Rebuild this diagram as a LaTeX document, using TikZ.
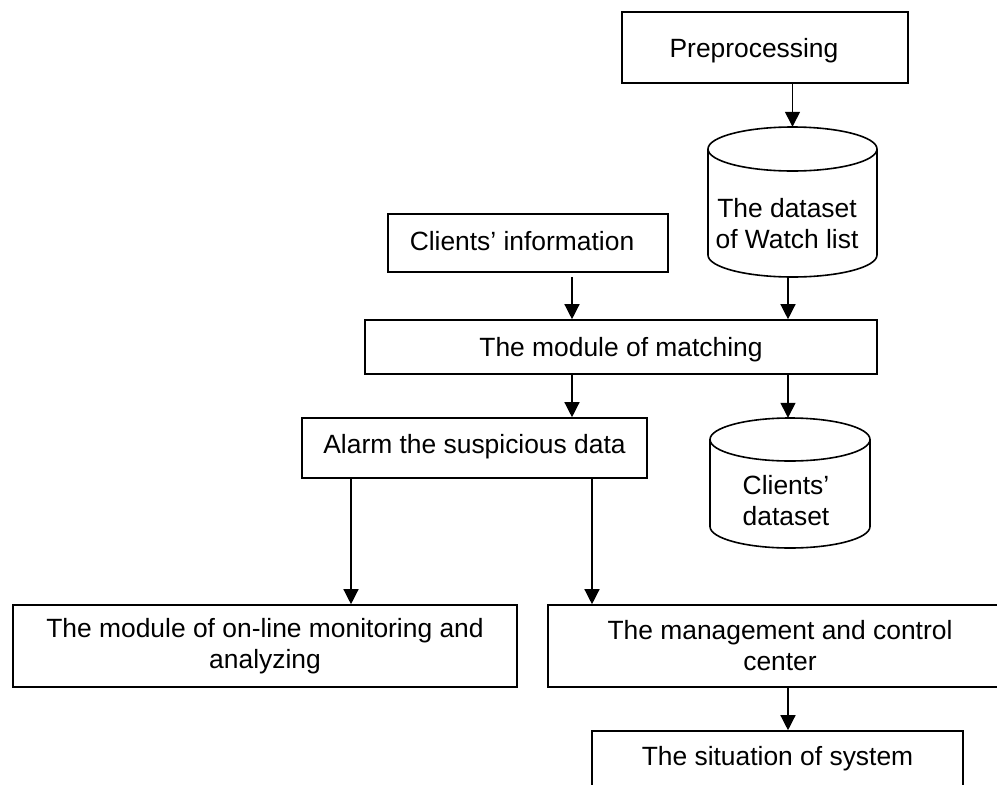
\documentclass[tikz,border=0pt]{standalone}
\usepackage{fontspec}
\setmainfont{Liberation Sans}
\usetikzlibrary{arrows.meta}
\begin{document}
\begin{tikzpicture}[x=1pt,y=-1pt,
  every node/.style={font=\fontsize{26.4}{31}\selectfont, inner sep=0pt},
  boxbase/.style={draw, rectangle, line width=1.6pt},
  box/.style={boxbase, text height=19.2pt, text depth=0pt},
  thickbox/.style={box, line width=2.8pt},
  cylline/.style={line width=1.6pt},
  conn/.style={line width=1.3pt, -{Triangle[width=15pt,length=15pt]}}
]
\useasboundingbox (0,0) rectangle (997,785);
\clip (0,0) rectangle (997,785);

% process boxes
\node[thickbox, minimum width=286pt, minimum height=71pt] (pre) at (765,47.5) {\hspace*{-22pt}Preprocessing};
\node[box, text depth=5pt, minimum width=280pt, minimum height=58pt] (info) at (528,243) {\hspace*{-12pt}Clients’ information};
\node[box, minimum width=512pt, minimum height=54pt] (match) at (621,347) {The module of matching};
\node[box, text depth=9pt, minimum width=345pt, minimum height=60pt] (alarm) at (474.5,448) {Alarm the suspicious data};
\node[boxbase, align=center, minimum width=504pt, minimum height=82pt] (online) at (265,646) {The module of on-line monitoring and\\analyzing};
\node[boxbase, align=center, minimum width=464pt, minimum height=82pt] (mgmt) at (780,646) {The management and control\\center};
\node[box, text depth=20pt, minimum width=371pt, minimum height=69pt] (sit) at (777.5,765.5) {The situation of system};

% watch list database
\node[minimum width=169pt, minimum height=150pt] (wl) at (792.5,202) {};
\draw[cylline] (708,149) -- (708,255) arc[start angle=180, end angle=0, x radius=84.5, y radius=22] -- (877,149);
\draw[cylline] (792.5,149) ellipse[x radius=84.5, y radius=22];
\node[align=center] (wltext) at (787,224) {The dataset\\of Watch list};

% clients database
\node[minimum width=160pt, minimum height=130pt] (cd) at (790,483) {};
\draw[cylline] (710,439.5) -- (710,526.5) arc[start angle=180, end angle=0, x radius=80, y radius=21.5] -- (870,439.5);
\draw[cylline] (790,439.5) ellipse[x radius=80, y radius=21.5];
\node[align=center] (cdtext) at (786,500.4) {Clients’\\dataset};

% columns used by the connectors
\coordinate (xa) at (572,0);
\coordinate (xb) at (788,0);
\coordinate (xl) at (351,0);
\coordinate (xr) at (592,0);

\draw[conn] (pre.south -| wl.north) -- (wl.north);
\draw[conn, shorten <=4pt] (info.south -| xa) -- (match.north -| xa);
\draw[conn] (wl.south -| xb) -- (match.north -| xb);
\draw[conn] (match.south -| xa) -- (alarm.north -| xa);
\draw[conn] (match.south -| xb) -- (cd.north -| xb);
\draw[conn] (alarm.south -| xl) -- (online.north -| xl);
\draw[conn] (alarm.south -| xr) -- (mgmt.north -| xr);
\draw[conn] (mgmt.south -| xb) -- (sit.north -| xb);
\end{tikzpicture}
\end{document}
